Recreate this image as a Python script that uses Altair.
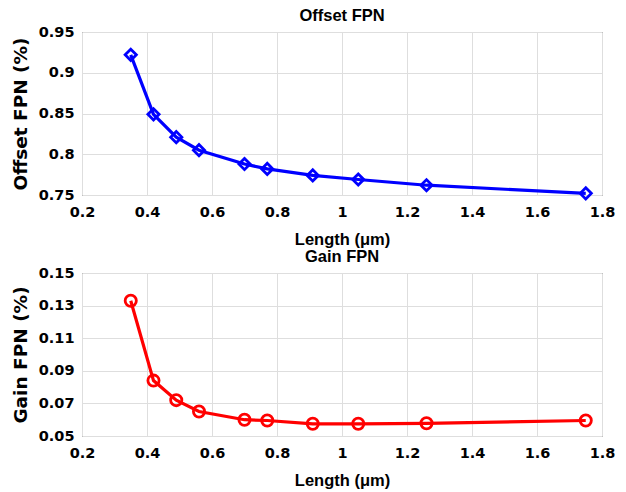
import altair as alt
import pandas as pd

length = [0.35, 0.42, 0.49, 0.56, 0.70, 0.77, 0.91, 1.05, 1.26, 1.75]
offset_fpn = [0.922, 0.849, 0.821, 0.805, 0.788, 0.782, 0.774, 0.769, 0.762, 0.752]
gain_fpn = [0.133, 0.084, 0.072, 0.065, 0.060, 0.0595, 0.0575, 0.0575, 0.0578, 0.0595]

x_ticks = [0.2, 0.4, 0.6, 0.8, 1.0, 1.2, 1.4, 1.6, 1.8]
off_ticks = [0.75, 0.8, 0.85, 0.9, 0.95]
gain_ticks = [0.05, 0.07, 0.09, 0.11, 0.13, 0.15]

df = pd.DataFrame({"length": length, "offset": offset_fpn, "gain": gain_fpn})

LAB_FONT = "DejaVu Sans"
TXT_FONT = "Liberation Sans"
W, H = 520, 163

def xaxis():
    return alt.X("length:Q", scale=alt.Scale(domain=[0.2, 1.8], nice=False, padding=0),
                 axis=alt.Axis(values=x_ticks, format=".1~f", title="Length (μm)",
                               titleFont=TXT_FONT, titleFontSize=16.5, labelFlush=False,
                               labelPadding=10, titlePadding=13))

def panel(field, ticks, domain, fmt, ytitle, title, color, shape):
    base = alt.Chart(df).encode(
        x=xaxis(),
        y=alt.Y(f"{field}:Q", scale=alt.Scale(domain=domain, nice=False, zero=False, padding=0),
                axis=alt.Axis(values=ticks, format=fmt, title=ytitle, labelFlush=False,
                              titleFont=LAB_FONT, titleFontSize=18.5,
                              labelPadding=8, titlePadding=8)),
    )
    line = base.mark_line(color=color, strokeWidth=3.2)
    pts = base.mark_point(shape=shape, color=color, filled=False, size=125, strokeWidth=2.8, opacity=1)
    return (line + pts).properties(
        width=W, height=H,
        title=alt.TitleParams(title, font=TXT_FONT, fontSize=16.5, fontWeight="bold", offset=0, color="black"),
    )

top = panel("offset", off_ticks, [0.75, 0.95], ".2~f", "Offset FPN (%)", "Offset FPN", "#0000ff", "diamond")
bottom = panel("gain", gain_ticks, [0.05, 0.15], ".2f", "Gain FPN (%)", "Gain FPN", "#ff0000", "circle")

chart = alt.vconcat(top, bottom, spacing=78, bounds="flush").properties(
    padding={"left": 10, "top": 7, "right": 5, "bottom": 5},
    background="white",
).configure_view(
    stroke="#333333", strokeWidth=1
).configure_axis(
    labelFont=LAB_FONT, labelFontSize=14.5, labelFontWeight="bold", labelColor="black",
    titleFontWeight="bold", titleColor="black",
    ticks=False, domain=False, gridColor="#dedede", gridWidth=1,
)

chart.save("out.html", embed_options={"renderer": "svg", "actions": False})
